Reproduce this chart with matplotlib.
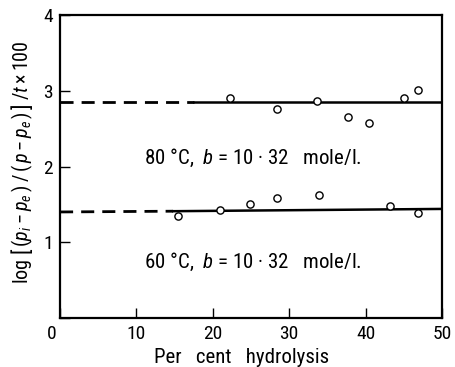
import matplotlib
matplotlib.use("Agg")
import matplotlib.pyplot as plt
from matplotlib import font_manager as fm
from matplotlib.transforms import ScaledTranslation

available = {f.name for f in fm.fontManager.ttflist}
candidates = ['Roboto Condensed', 'Archivo Narrow', 'PT Sans Narrow', 'Liberation Sans Narrow',
              'Barlow Semi Condensed', 'Liberation Sans', 'DejaVu Sans']
FONT = next(c for c in candidates if c in available)

plt.rcParams['font.family'] = [FONT, 'DejaVu Sans']
plt.rcParams['mathtext.fontset'] = 'custom'
plt.rcParams['mathtext.rm'] = FONT
plt.rcParams['mathtext.it'] = FONT + ':italic'
plt.rcParams['mathtext.bf'] = FONT + ':bold'

# 80 C data
x80 = [22.3, 28.4, 33.7, 37.7, 40.5, 45.0, 46.8]
y80 = [2.91, 2.76, 2.86, 2.65, 2.57, 2.91, 3.01]
line80_x = [0, 17.6, 50]
line80_y = [2.855, 2.855, 2.855]

# 60 C data
x60 = [15.5, 20.9, 24.9, 28.4, 33.9, 43.2, 46.8]
y60 = [1.35, 1.42, 1.50, 1.58, 1.63, 1.48, 1.39]
line60_x = [0, 14.8, 50]
line60_y = [1.40, 1.41, 1.44]

xticks = [0, 10, 20, 30, 40, 50]
xticklabels = ['0', '10', '20', '30', '40', '50']
yticks = [0, 1, 2, 3, 4]
yticklabels = ['', '1', '2', '3', '4']

fig = plt.figure(figsize=(4.55, 3.67), dpi=100)
ax = fig.add_axes([0.132, 0.1335, 0.8394, 0.8256])

for lx, ly in [(line80_x, line80_y), (line60_x, line60_y)]:
    ax.plot(lx[:2], ly[:2], color='black', lw=2.0, ls=(0, (4.7, 2.9)))
    ax.plot(lx[1:], ly[1:], color='black', lw=1.8)

ax.plot(x80, y80, 'o', mfc='white', mec='black', ms=5.2, mew=1.0)
ax.plot(x60, y60, 'o', mfc='white', mec='black', ms=5.2, mew=1.0)

ax.text(25.3, 2.12, r'80 °C,  $b$ = 10 · 32   mole/l.', ha='center', va='center', fontsize=15)
ax.text(25.3, 0.74, r'60 °C,  $b$ = 10 · 32   mole/l.', ha='center', va='center', fontsize=15)

ax.set_xlim(0, 50)
ax.set_ylim(0, 4)
ax.set_xticks(xticks)
ax.set_xticklabels(xticklabels)
ax.set_yticks(yticks)
ax.set_yticklabels(yticklabels)
ax.tick_params(direction='in', length=7, width=1.0, labelsize=14, pad=5)
for s in ax.spines.values():
    s.set_linewidth(1.6)

# shift the corner "0" slightly left, as in the reference
lab0 = ax.get_xticklabels()[0]
lab0.set_transform(lab0.get_transform() + ScaledTranslation(-0.08, 0, fig.dpi_scale_trans))

ax.set_xlabel('Per   cent   hydrolysis', fontsize=15)
ax.xaxis.set_label_coords(0.474, -0.1)
ax.set_ylabel(r'$\log\,\left[\,(p_i - p_e\,)\;/\,(\,p - p_e\,)\,\right]\;/t\times100$', fontsize=14.5)
ax.yaxis.set_label_coords(-0.065, 0.515)

fig.savefig('out.png', dpi=100)
